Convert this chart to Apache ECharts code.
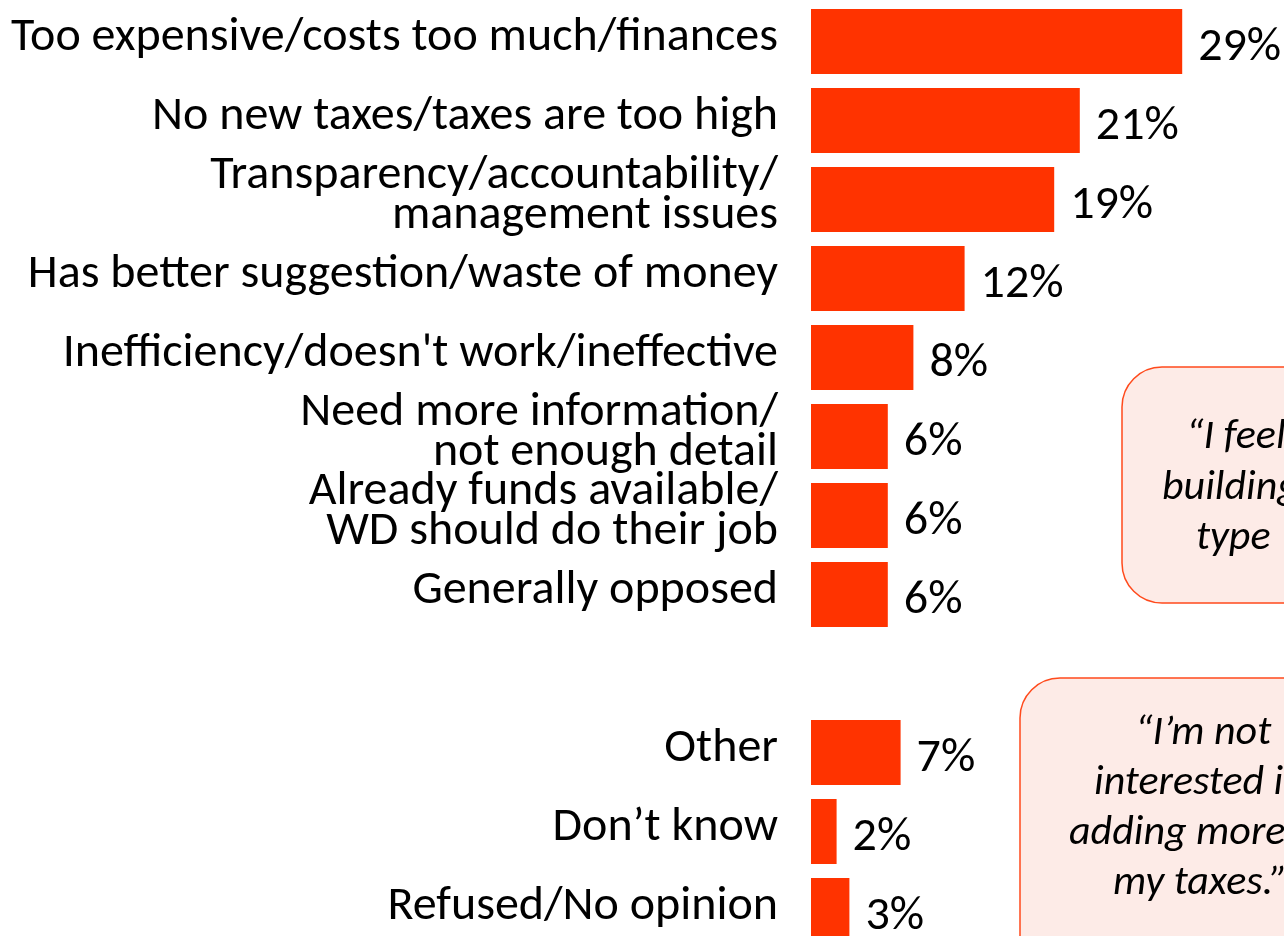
<!DOCTYPE html>
<html>
<head>
<meta charset="utf-8">
<script src="https://cdn.jsdelivr.net/npm/echarts@6/dist/echarts.min.js"></script>
<style>
  html, body { margin: 0; padding: 0; background: #fff; }
  #chart { width: 1284px; height: 936px; }
</style>
</head>
<body>
<div id="chart"></div>
<script>
  // categories, top to bottom ('' is the gap row before Other)
  const categories = [
    'Too expensive/costs too much/finances',
    'No new taxes/taxes are too high',
    'Transparency/accountability/\nmanagement issues',
    'Has better suggestion/waste of money',
    'Inefficiency/doesn\'t work/ineffective',
    'Need more information/\nnot enough detail',
    'Already funds available/\nWD should do their job',
    'Generally opposed',
    '',
    'Other',
    'Don\u2019t know',
    'Refused/No opinion'
  ]
  const values = [29, 21, 19, 12, 8, 6, 6, 6, null, 7, 2, 3]

  const FONT = 'Carlito, "Liberation Sans", sans-serif'

  let myChart = echarts.init(document.getElementById('chart'))

  myChart.setOption({
    animation: false,
    grid: {
      left: 811,
      right: 89,
      top: 2,
      height: 948,
      containLabel: false,
      outerBoundsMode: 'none'
    },
    xAxis: {
      type: 'value',
      min: 0,
      max: 30,
      show: false
    },
    yAxis: {
      type: 'category',
      inverse: true,
      data: categories,
      axisLine: { show: false },
      axisTick: { show: false },
      splitLine: { show: false },
      axisLabel: {
        margin: 33,
        color: '#000',
        fontFamily: FONT,
        fontSize: 48,
        lineHeight: 40,
        // a small empty line under each label lifts the text a little
        formatter: function (v) {
          if (!v) return ''
          return v.split('\n').map(function (l) { return '{a|' + l + '}' }).join('\n') + '\n{gap| }'
        },
        rich: {
          a: { fontFamily: FONT, fontSize: 48, lineHeight: 40, color: '#000' },
          gap: { fontSize: 1, lineHeight: 8 }
        }
      }
    },
    series: [
      {
        type: 'bar',
        data: values,
        barWidth: 65,
        itemStyle: { color: '#FF3300' },
        label: {
          show: true,
          position: 'right',
          distance: 16,
          offset: [0, 6],
          formatter: '{c}%',
          color: '#000',
          fontFamily: FONT,
          fontSize: 48
        }
      }
    ],
    graphic: [
      {
        type: 'rect',
        shape: { x: 1122, y: 367, width: 320, height: 236, r: 40 },
        style: { fill: '#FDEBE7', stroke: '#FF4A1C', lineWidth: 1.5 }
      },
      {
        type: 'rect',
        shape: { x: 1020, y: 678, width: 364, height: 300, r: 40 },
        style: { fill: '#FDEBE7', stroke: '#FF4A1C', lineWidth: 1.5 }
      },
      { type: 'text', x: 1186, y: 437, style: { text: '\u201cI feel', font: 'italic 42px ' + FONT, fill: '#000', verticalAlign: 'middle' } },
      { type: 'text', x: 1162, y: 488, style: { text: 'building', font: 'italic 42px ' + FONT, fill: '#000', verticalAlign: 'middle' } },
      { type: 'text', x: 1196, y: 538, style: { text: 'type', font: 'italic 42px ' + FONT, fill: '#000', verticalAlign: 'middle' } },
      { type: 'text', x: 1135, y: 733, style: { text: '\u201cI\u2019m not', font: 'italic 42px ' + FONT, fill: '#000', verticalAlign: 'middle' } },
      { type: 'text', x: 1094, y: 783, style: { text: 'interested in', font: 'italic 42px ' + FONT, fill: '#000', verticalAlign: 'middle' } },
      { type: 'text', x: 1069, y: 833, style: { text: 'adding more to', font: 'italic 42px ' + FONT, fill: '#000', verticalAlign: 'middle' } },
      { type: 'text', x: 1113, y: 883, style: { text: 'my taxes.\u201d', font: 'italic 42px ' + FONT, fill: '#000', verticalAlign: 'middle' } }
    ]
  })
</script>
</body>
</html>
